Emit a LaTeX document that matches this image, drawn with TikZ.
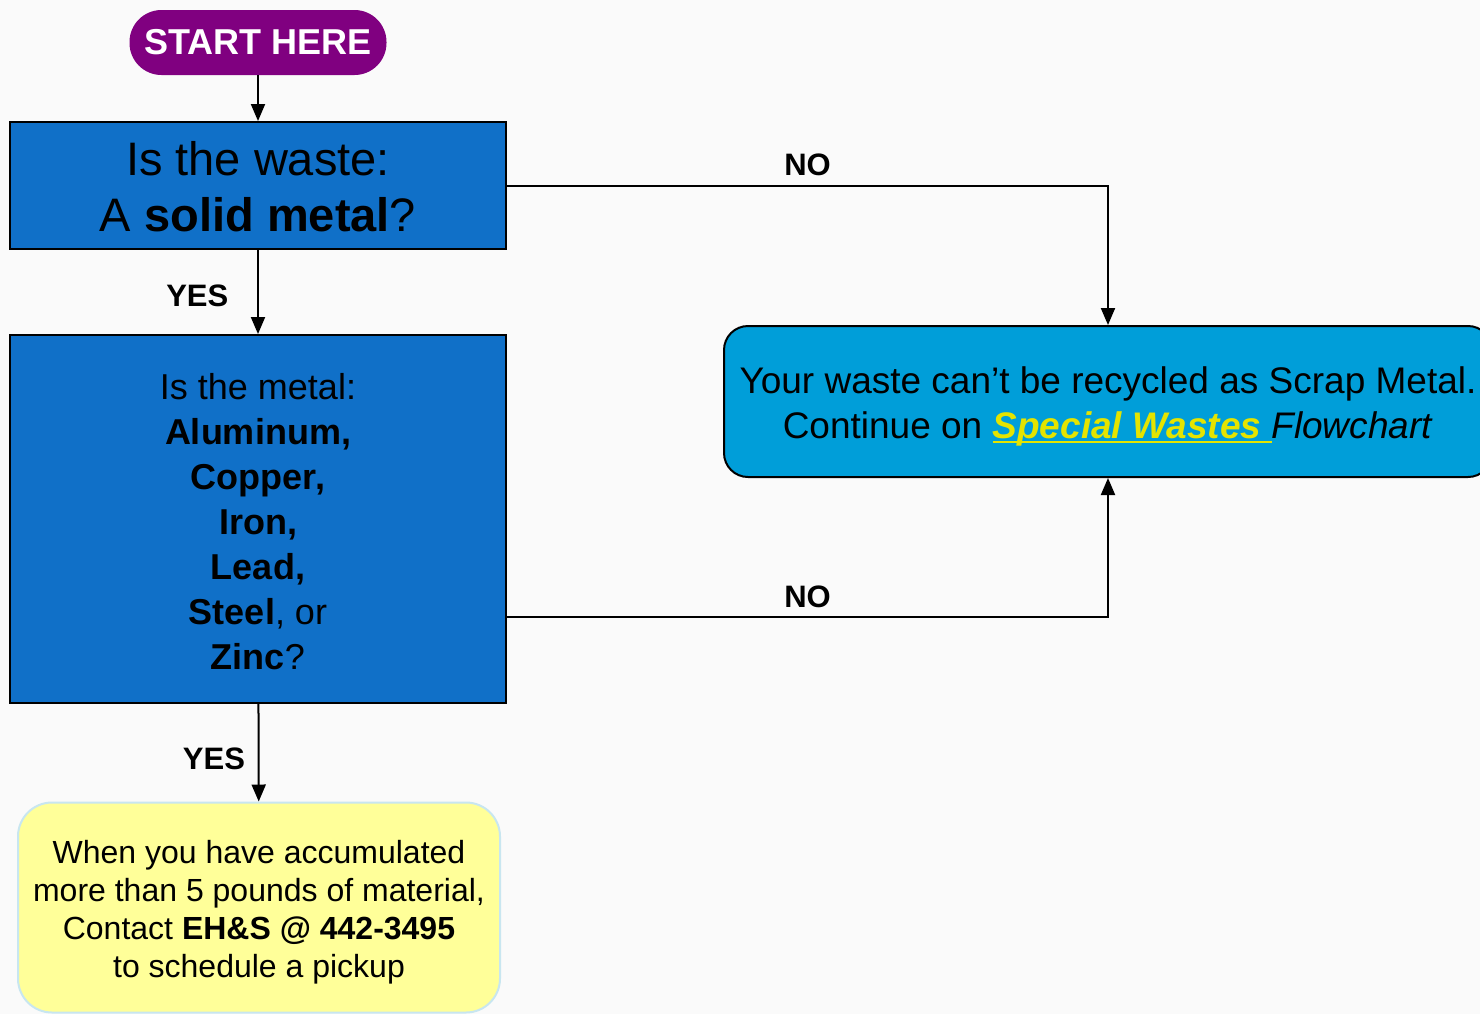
\documentclass[tikz,border=0pt]{standalone}
\usepackage{fontspec}
\setmainfont{Liberation Sans}
\usepackage{tikz}
\usetikzlibrary{arrows.meta,shapes,positioning}
\usepackage{xcolor}
\definecolor{swpurple}{RGB}{128,0,128}
\definecolor{swblue}{RGB}{16,112,200}
\definecolor{swcyan}{RGB}{0,158,217}
\definecolor{swyellow}{RGB}{255,255,153}
\definecolor{swlink}{RGB}{228,228,0}
\definecolor{swedge}{RGB}{200,230,240}
\definecolor{swback}{RGB}{250,250,250}
\tikzstyle{arrow} = [line width=1pt,-{Triangle[width=7pt,length=8.5pt]},color=black]
\tikzstyle{question} = [rectangle, minimum width=248pt, minimum height=63.5pt, align=center, draw=black, fill=swblue, line width=1pt, inner sep=0pt]
\tikzstyle{answer} = [rectangle, rounded corners=12pt, align=center, draw=black, fill=swcyan, line width=1pt, inner sep=0pt]
\tikzstyle{choice} = [font=\fontsize{15.5}{18}\selectfont\bfseries]
% push a first line down a little
\newcommand{\lift}[1]{\rule{0pt}{\dimexpr\fontcharht\font`d+#1\relax}}
\newcommand{\ulink}[1]{\setbox0\hbox{#1}\rlap{\rule[-2pt]{\wd0}{1pt}}\box0}

\begin{document}
\begin{tikzpicture}[x=0.5pt,y=-0.5pt]
% Page
\useasboundingbox (0,0) rectangle (1480,1014);
\fill[swback] (0,0) rectangle (1480,1014);

% Start
\node (start) [rectangle, rounded corners=16pt, minimum width=128.5pt, minimum height=32.5pt, fill=swpurple, text=white, font=\fontsize{18}{22}\selectfont\bfseries] at (258,42.5) {START HERE};

% Questions
\node (solid) [question, font=\fontsize{23.5}{28}\selectfont] at (258,185.5) {\lift{2pt}Is the waste:\\A \textbf{solid metal}?};
\node (metal) [question, minimum height=184pt, font=\fontsize{18}{22.5}\selectfont] at (258,519) {\lift{3pt}Is the metal:\\\textbf{Aluminum,}\\\textbf{Copper,}\\\textbf{Iron,}\\\textbf{Lead,}\\\textbf{Steel}, or\\\textbf{Zinc}?};

% Results
\node (special) [answer, minimum width=384pt, minimum height=75.5pt, font=\fontsize{18.5}{22.5}\selectfont] at (1108,401.5) {\lift{6pt}Your waste can’t be recycled as Scrap Metal.\\Continue on \textcolor{swlink}{\ulink{\textbf{\textit{Special Wastes}}\ }}\textit{Flowchart}};
\node (pickup) [rectangle, rounded corners=17pt, minimum width=241pt, minimum height=105pt, align=center, draw=swedge, fill=swyellow, line width=1pt, inner sep=0pt, font=\fontsize{16}{19}\selectfont] at (259,907.5) {\lift{5pt}When you have accumulated\\more than 5 pounds of material,\\Contact \textbf{EH\&S @ 442-3495}\\to schedule a pickup};

% Connectors
\draw[arrow] (start) -- (solid);
\draw[arrow] (solid.east) -| node[choice, pos=0.25, above=1pt] {NO} (special.north);
\draw[arrow] (solid) -- node[choice, midway, left=11pt, yshift=-2pt] {YES} (metal);
\draw[arrow] ([yshift=-49pt]metal.east) -| node[choice, pos=0.25, above=1pt] {NO} (special.south);
\draw[arrow] (metal) -- node[choice, midway, left=3pt, yshift=-3pt] {YES} (pickup);
\end{tikzpicture}
\end{document}
